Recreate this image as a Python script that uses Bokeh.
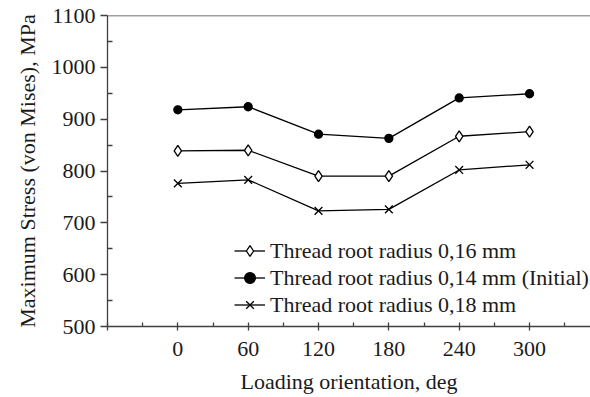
from bokeh.plotting import figure
from bokeh.models import FixedTicker, Span, Legend, LegendItem, Range1d
from bokeh.embed import file_html
from bokeh.resources import INLINE

# ---- data ----
angles = [0, 60, 120, 180, 240, 300]
r016 = [839, 840, 790, 790, 867, 876]
r014 = [918, 924, 871, 863, 941, 949]
r018 = [776, 783, 723, 726, 802, 812]
series_labels = ["Thread root radius 0,16 mm",
                 "Thread root radius 0,14 mm (Initial)",
                 "Thread root radius 0,18 mm"]
x_ticks = [-60, 0, 60, 120, 180, 240, 300, 360]
y_ticks = [500, 600, 700, 800, 900, 1000, 1100]
x_label = "Loading orientation, deg"
y_label = "Maximum Stress (von Mises), MPa"

FONT = "Liberation Serif"
FS = "22px"
AX = "#404040"
TXT = "#1a1a1a"

p = figure(width=590, height=397, output_backend="svg", toolbar_location=None,
           x_range=Range1d(-60, 352), y_range=Range1d(500, 1100),
           min_border_left=107, min_border_right=0, min_border_top=15,
           min_border_bottom=71)
p.outline_line_color = None
p.xgrid.grid_line_color = None
p.ygrid.grid_line_color = None
p.background_fill_color = "white"
p.border_fill_color = "white"

items = []
specs = [(r016, "diamond", "white", 11), (r014, "circle", "black", 8),
         (r018, "x", "black", 11)]
for vals, marker, fill, size in specs:
    ln = p.line(angles, vals, line_color="black", line_width=1.3)
    sc = p.scatter(angles, vals, marker=marker, size=size, fill_color=fill,
                   line_color="black", line_width=1.3)
    items.append((ln, sc))

legend = Legend(items=[LegendItem(label=lab, renderers=[ln, sc])
                       for lab, (ln, sc) in zip(series_labels, items)],
                location=(127, 8))
legend.padding = 0
legend.margin = 0
legend.spacing = 0
legend.label_height = 27
legend.glyph_height = 27
legend.glyph_width = 31
legend.label_standoff = 5
legend.border_line_color = None
legend.background_fill_alpha = 0
legend.label_text_font = FONT
legend.label_text_font_size = FS
legend.label_text_color = TXT
p.add_layout(legend, "center")

top = Span(location=1100, dimension="width", line_color=AX, line_width=1.5)
p.add_layout(top)

xa = p.xaxis[0]
xa.ticker = FixedTicker(ticks=x_ticks,
                        minor_ticks=[t + 30 for t in x_ticks[:-1]])
xa.major_label_overrides = {-60: "", 360: ""}
xa.major_tick_in = 4
xa.major_tick_out = 4
xa.minor_tick_in = 4
xa.minor_tick_out = 0
xa.major_label_standoff = 11
xa.axis_label = x_label
xa.axis_label_standoff = 10

ya = p.yaxis[0]
ya.ticker = FixedTicker(ticks=y_ticks,
                        minor_ticks=[t + 50 for t in y_ticks[:-1]])
ya.major_tick_in = 0
ya.major_tick_out = 7
ya.minor_tick_in = 5
ya.minor_tick_out = 0
ya.major_label_standoff = 5
ya.axis_label = y_label
ya.axis_label_standoff = 9

for ax in (xa, ya):
    ax.axis_line_color = AX
    ax.axis_line_width = 1.3
    ax.major_tick_line_color = AX
    ax.major_tick_line_width = 1.3
    ax.minor_tick_line_color = AX
    ax.minor_tick_line_width = 1.3
    ax.major_label_text_font = FONT
    ax.major_label_text_font_size = FS
    ax.major_label_text_color = TXT
    ax.axis_label_text_font = FONT
    ax.axis_label_text_font_size = FS
    ax.axis_label_text_font_style = "normal"
    ax.axis_label_text_color = TXT

open("out.html", "w").write(file_html(p, INLINE))
